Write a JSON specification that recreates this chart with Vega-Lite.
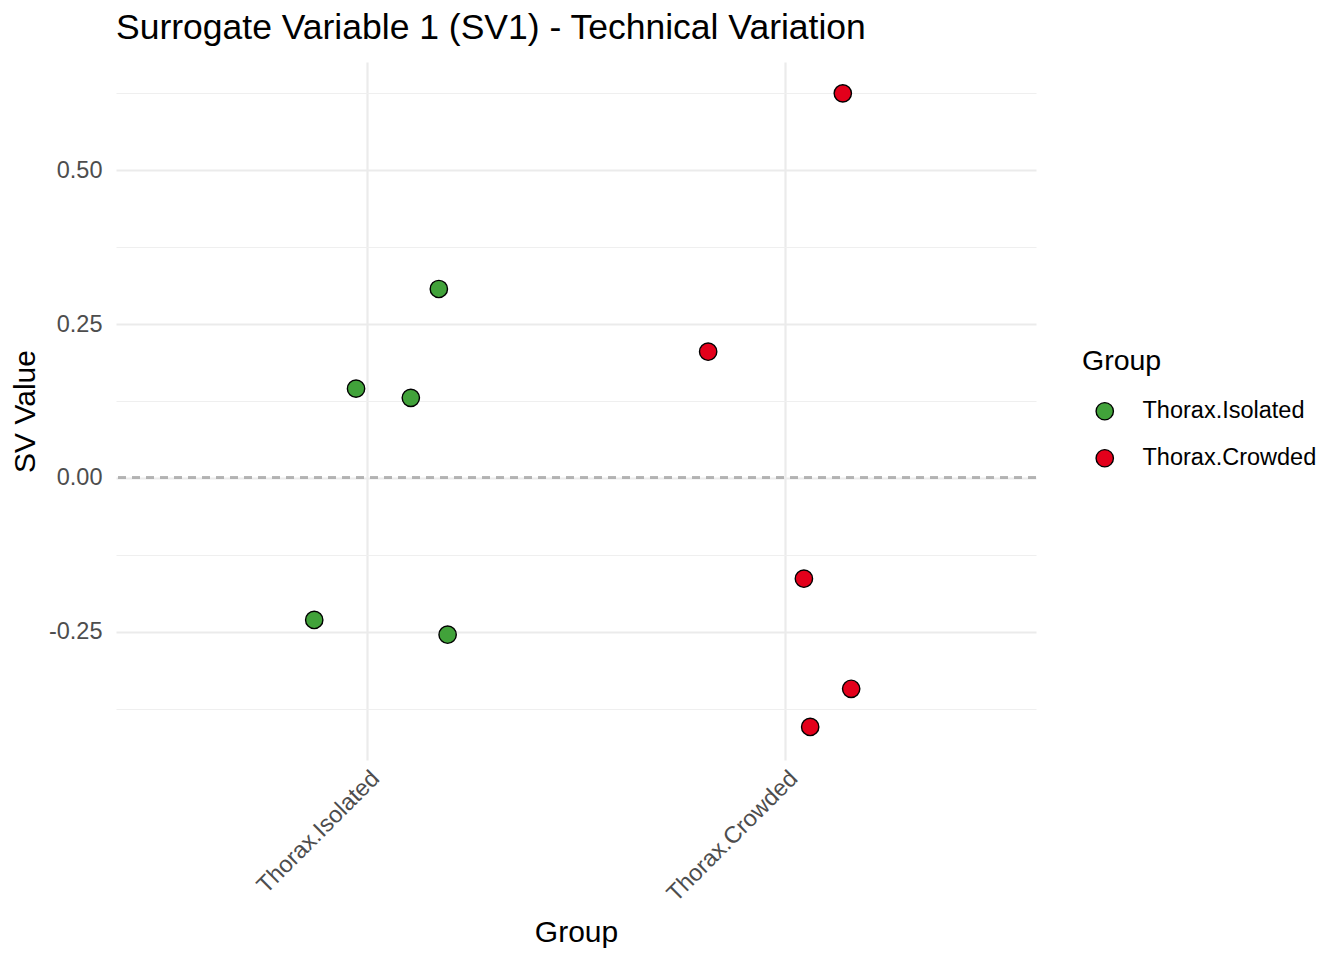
{
  "$schema": "https://vega.github.io/schema/vega-lite/v6.json",
  "autosize": "none",
  "width": 920,
  "height": 698,
  "padding": {"left": 116, "top": 62, "right": 308, "bottom": 200},
  "background": "white",
  "title": {
    "text": "Surrogate Variable 1 (SV1) - Technical Variation",
    "anchor": "start",
    "frame": "group",
    "font": "Liberation Sans",
    "fontSize": 35.5,
    "fontWeight": "normal",
    "color": "black",
    "offset": 16
  },
  "data": {
    "values": [
      {"group": "Thorax.Isolated", "pos": 1.172, "sv": 0.307},
      {"group": "Thorax.Isolated", "pos": 0.974, "sv": 0.145},
      {"group": "Thorax.Isolated", "pos": 1.105, "sv": 0.130},
      {"group": "Thorax.Isolated", "pos": 0.874, "sv": -0.231},
      {"group": "Thorax.Isolated", "pos": 1.193, "sv": -0.255},
      {"group": "Thorax.Crowded", "pos": 2.138, "sv": 0.625},
      {"group": "Thorax.Crowded", "pos": 1.816, "sv": 0.205},
      {"group": "Thorax.Crowded", "pos": 2.045, "sv": -0.164},
      {"group": "Thorax.Crowded", "pos": 2.158, "sv": -0.343},
      {"group": "Thorax.Crowded", "pos": 2.060, "sv": -0.405}
    ]
  },
  "layer": [
    {
      "mark": {"type": "rule", "strokeDash": [8, 6], "color": "#B3B3B3", "strokeWidth": 2},
      "encoding": {"y": {"datum": 0, "type": "quantitative"}}
    },
    {
      "mark": {"type": "circle", "size": 300, "opacity": 1, "stroke": "black", "strokeWidth": 1.4},
      "encoding": {
        "x": {
          "field": "pos",
          "type": "quantitative",
          "title": "Group",
          "scale": {"domain": [0.4, 2.6], "nice": false, "zero": false},
          "axis": {
            "values": [1, 2],
            "labelExpr": "datum.value == 1 ? 'Thorax.Isolated' : 'Thorax.Crowded'",
            "labelAngle": -45,
            "labelAlign": "right",
            "labelBaseline": "top",
            "labelPadding": 6,
            "titlePadding": 12
          }
        },
        "y": {
          "field": "sv",
          "type": "quantitative",
          "title": "SV Value",
          "scale": {"domain": [-0.4587, 0.676], "nice": false, "zero": false},
          "axis": {
            "values": [-0.375, -0.25, -0.125, 0, 0.125, 0.25, 0.375, 0.5, 0.625],
            "labelExpr": "abs(datum.value * 4 - round(datum.value * 4)) > 0.01 ? '' : replace(format(datum.value, '.2f'), '\u2212', '-')",
            "gridWidth": {"condition": {"test": "abs(datum.value * 4 - round(datum.value * 4)) > 0.01", "value": 1.2}, "value": 2.2},
            "gridColor": {"condition": {"test": "abs(datum.value * 4 - round(datum.value * 4)) > 0.01", "value": "#EFEFEF"}, "value": "#EBEBEB"},
            "labelPadding": 14,
            "titlePadding": 8
          }
        },
        "color": {
          "field": "group",
          "type": "nominal",
          "title": "Group",
          "scale": {"domain": ["Thorax.Isolated", "Thorax.Crowded"], "range": ["#41A23A", "#E3001B"]},
          "legend": {
            "orient": "none",
            "legendX": 966,
            "legendY": 285,
            "symbolType": "circle",
            "symbolSize": 300,
            "symbolStrokeColor": "black",
            "symbolStrokeWidth": 1.4,
            "symbolOffset": 11,
            "rowPadding": 22,
            "titlePadding": 24,
            "labelOffset": 26,
            "labelLimit": 400
          }
        }
      }
    }
  ],
  "config": {
    "view": {"stroke": null},
    "font": "Liberation Sans",
    "axis": {
      "domain": false,
      "ticks": false,
      "grid": true,
      "gridColor": "#EBEBEB",
      "gridWidth": 2.2,
      "labelFont": "Liberation Sans",
      "labelFontSize": 23.5,
      "labelColor": "#4D4D4D",
      "labelLimit": 400,
      "titleFont": "Liberation Sans",
      "titleFontSize": 30,
      "titleFontWeight": "normal",
      "titleColor": "black"
    },
    "legend": {
      "titleFont": "Liberation Sans",
      "titleFontSize": 28.5,
      "titleFontWeight": "normal",
      "titleColor": "black",
      "labelFont": "Liberation Sans",
      "labelFontSize": 23.5,
      "labelColor": "black"
    }
  }
}
